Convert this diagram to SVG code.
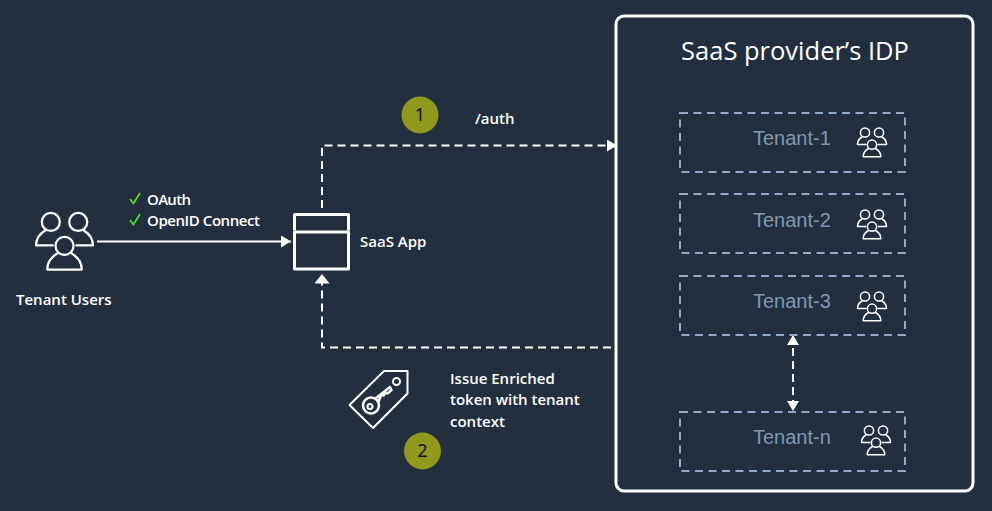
<svg xmlns="http://www.w3.org/2000/svg" width="992" height="511" viewBox="0 0 992 511">
<style>
.w{font-family:"Open Sans","Noto Sans",sans-serif;font-size:15px;font-weight:600;fill:#fff}
.t{font-family:"Liberation Sans",Arial,sans-serif;font-size:20px;fill:#7f97b5}
.b{fill:none;stroke:#93a9c7;stroke-width:2;stroke-dasharray:8 5.500}
.c{fill:none;stroke:#fff;stroke-width:2;stroke-dasharray:8 5}
.ic{fill:none;stroke:#fff;stroke-linejoin:round;stroke-linecap:round}
.n{font-family:"Noto Sans",sans-serif;font-size:18px;fill:#111;text-anchor:middle}
.ck{fill:none;stroke:#4fe02f;stroke-width:1.700}
</style>
<defs>
<marker id="a" markerUnits="userSpaceOnUse" markerWidth="12" markerHeight="14" refX="10" refY="6" orient="auto-start-reverse"><path d="M0 0L10 6L0 12Z" fill="#fff"/></marker>
<marker id="w" markerUnits="userSpaceOnUse" markerWidth="12" markerHeight="16" refX="9.500" refY="7.500" orient="auto"><path d="M0 0L9.500 7.500L0 15Z" fill="#fff"/></marker>
<g id="users">
<circle cx="-7" cy="-11.500" r="4.600"/><circle cx="7" cy="-11.500" r="4.600"/><circle cx="0" cy="0.700" r="4.600"/>
<path d="M-14.500 0.500C-14.500 -3 -12.500 -5.500 -10 -7M-14.500 0.500H-6M14.500 0.500C14.500 -3 12.500 -5.500 10 -7M14.500 0.500H6M-8.800 12.800C-8.800 9 -6.500 6.200 -3.500 4.500M8.800 12.800C8.800 9 6.500 6.200 3.500 4.500M-8.800 12.800H8.800"/>
</g>
</defs>
<rect width="992" height="511" fill="#232f3e"/>
<g id="connectors">
<path d="M97 241.500H291" fill="none" stroke="#fff" stroke-width="2" marker-end="url(#a)"/>
<path class="c" d="M322 208V145.500H617" marker-end="url(#a)"/>
<path class="c" d="M611 347.500H322V274" marker-end="url(#w)"/>
<path class="c" d="M793 335V411" marker-start="url(#a)" marker-end="url(#a)"/>
</g>
<g id="provider">
<rect x="616" y="16" width="357" height="475" rx="8" fill="none" stroke="#fff" stroke-width="3"/>
<text x="795" y="60" text-anchor="middle" font-family="Open Sans,Noto Sans,sans-serif" font-size="25.500" fill="#fff">SaaS provider’s IDP</text>
</g>
<g id="tenant-1"><rect class="b" x="680" y="113" width="225" height="59"/><text class="t" x="753" y="145">Tenant-1</text><use href="#users" class="ic" stroke-width="1.500" transform="translate(872 144)"/></g>
<g id="tenant-2"><rect class="b" x="680" y="194" width="225" height="59"/><text class="t" x="753" y="227">Tenant-2</text><use href="#users" class="ic" stroke-width="1.500" transform="translate(872 226)"/></g>
<g id="tenant-3"><rect class="b" x="680" y="276" width="225" height="59"/><text class="t" x="753" y="308">Tenant-3</text><use href="#users" class="ic" stroke-width="1.500" transform="translate(872 308)"/></g>
<g id="tenant-n"><rect class="b" x="680" y="412" width="225" height="59"/><text class="t" x="753" y="444">Tenant-n</text><use href="#users" class="ic" stroke-width="1.500" transform="translate(876 442)"/></g>
<g id="tenant-users">
<use href="#users" class="ic" stroke-width="1.150" transform="translate(64.500 244.500) scale(1.960)"/>
<text class="w" x="16" y="305">Tenant Users</text>
</g>
<g id="protocols">
<path class="ck" d="M130 199L133.500 203.500L140 193"/>
<path class="ck" d="M130 220L133.500 224.500L140 214"/>
<text class="w" x="147" y="205" textLength="44">OAuth</text>
<text class="w" x="147" y="226" textLength="113">OpenID Connect</text>
</g>
<g id="saas-app">
<path d="M294.500 230.500V214.500H348.500V230.500" fill="none" stroke="#fff" stroke-width="3" stroke-linejoin="round"/>
<rect x="294.500" y="232" width="54" height="37" fill="none" stroke="#fff" stroke-width="3" stroke-linejoin="round"/>
<text class="w" x="360" y="247">SaaS App</text>
</g>
<g id="step-1">
<circle cx="420" cy="115" r="18.500" fill="#8f991b"/><text class="n" x="420" y="121">1</text>
<text class="w" x="475" y="124">/auth</text>
</g>
<g id="token">
<path class="ic" stroke-width="2" d="M349.500 405L384 371H407.500V393.500L373 428Z"/>
<circle class="ic" stroke-width="2" cx="396.500" cy="381.500" r="3.500"/>
<path class="ic" stroke-width="2.500" d="M375.500 398.500L390 387L391.500 390L387.500 393.500L385.500 392.500L383.500 395.500L381.500 394.500L378.500 401.500"/>
<circle class="ic" stroke-width="2.500" cx="371" cy="405.500" r="8"/>
<circle class="ic" stroke-width="2" cx="370" cy="406.500" r="2.500"/>
<text class="w" x="450" y="384">Issue Enriched</text>
<text class="w" x="450" y="405">token with tenant</text>
<text class="w" x="450" y="427">context</text>
</g>
<g id="step-2">
<circle cx="422.500" cy="451" r="18.500" fill="#8f991b"/><text class="n" x="422.500" y="457">2</text>
</g>
</svg>
